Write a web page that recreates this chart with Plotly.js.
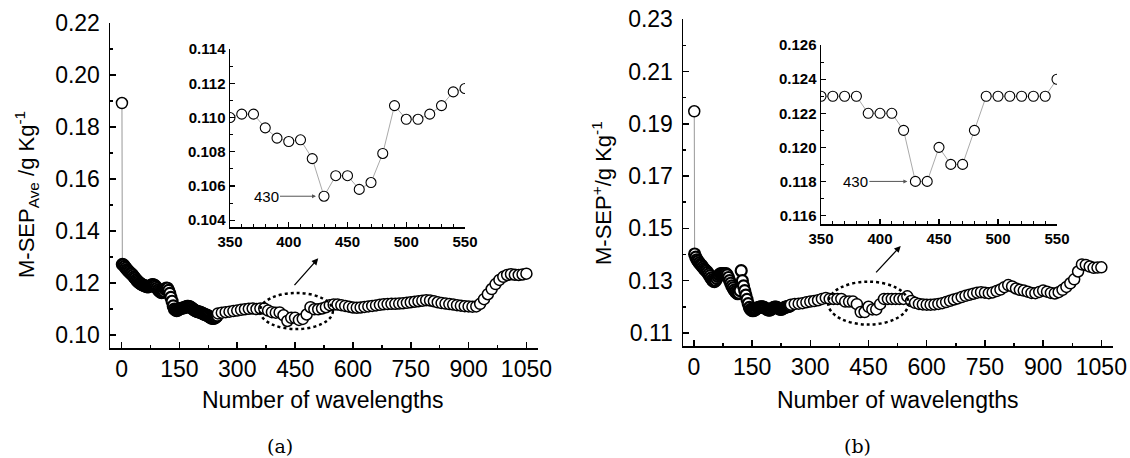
<!DOCTYPE html>
<html><head><meta charset="utf-8">
<script src="https://cdn.plot.ly/plotly-3.0.1.min.js"></script>
<style>html,body{margin:0;padding:0;background:#fff}#chart{width:1130px;height:458px}</style>
</head><body><div id="chart"></div>
<script>
// Number of wavelengths (x)
const firstX = [1];
const denseX = [2,5,8,11,14,17,20,23,26,29,32,35,38,41,44,47,50,53,56,59,62,65,68,71,74,77,80,83,86,89,92,95,98,101,104,107,110,113,116,119,122,125,128,131,134,137,140,143,146,149,152,155,158,161,164,167,170,173,176,179,182,185,188,191,194,197,200,203,206,209,212,215,218,221,224,227,230,233,236,239,242,245,248];
const sparseX = [250,260,270,280,290,300,310,320,330,340,350,360,370,380,390,400,410,420,430,440,450,460,470,480,490,500,510,520,530,540,550,560,570,580,590,600,610,620,630,640,650,660,670,680,690,700,710,720,730,740,750,760,770,780,790,800,810,820,830,840,850,860,870,880,890,900,910,920,930,940,950,960,970,980,990,1000,1010,1020,1030,1040,1050];

// (a) M-SEP Ave
const firstYA = [0.1893];
const denseYA = [0.1272,0.1270,0.1264,0.1258,0.1252,0.1248,0.1243,0.1238,0.1235,0.1230,0.1224,0.1219,0.1213,0.1208,0.1204,0.1200,0.1197,0.1194,0.1192,0.1190,0.1188,0.1186,0.1185,0.1186,0.1189,0.1192,0.1194,0.1193,0.1191,0.1186,0.1180,0.1174,0.1169,0.1165,0.1163,0.1164,0.1168,0.1176,0.1181,0.1180,0.1172,0.1160,0.1145,0.1130,0.1112,0.1100,0.1096,0.1094,0.1096,0.1099,0.1102,0.1103,0.1104,0.1105,0.1106,0.1108,0.1110,0.1110,0.1109,0.1107,0.1104,0.1100,0.1097,0.1094,0.1092,0.1090,0.1089,0.1088,0.1086,0.1084,0.1082,0.1080,0.1078,0.1077,0.1074,0.1071,0.1068,0.1065,0.1064,0.1064,0.1066,0.1069,0.1074];
const sparseYA = [0.1083,0.1086,0.1088,0.1090,0.1092,0.1094,0.1097,0.1099,0.1101,0.1102,0.1100,0.1102,0.1102,0.1094,0.1088,0.1086,0.1087,0.1076,0.1054,0.1066,0.1066,0.1058,0.1062,0.1079,0.1107,0.1099,0.1099,0.1102,0.1107,0.1115,0.1117,0.1117,0.1115,0.1112,0.1109,0.1106,0.1105,0.1106,0.1108,0.1110,0.1112,0.1114,0.1116,0.1118,0.1119,0.1120,0.1120,0.1121,0.1122,0.1124,0.1126,0.1128,0.1130,0.1132,0.1134,0.1133,0.1130,0.1126,0.1123,0.1121,0.1119,0.1117,0.1115,0.1113,0.1111,0.1110,0.1109,0.1110,0.1120,0.1138,0.1157,0.1177,0.1196,0.1212,0.1224,0.1231,0.1234,0.1232,0.1231,0.1233,0.1236];

// (b) M-SEP+
const firstYB = [0.1948];
const denseYB = [0.1402,0.1390,0.1380,0.1375,0.1368,0.1362,0.1358,0.1352,0.1346,0.1341,0.1337,0.1332,0.1325,0.1318,0.1310,0.1303,0.1298,0.1296,0.1300,0.1308,0.1316,0.1322,0.1326,0.1327,0.1327,0.1326,0.1326,0.1327,0.1322,0.1312,0.1300,0.1290,0.1280,0.1272,0.1264,0.1258,0.1253,0.1250,0.1252,0.1262,0.1338,0.1300,0.1280,0.1262,0.1245,0.1228,0.1212,0.1198,0.1190,0.1186,0.1185,0.1186,0.1188,0.1192,0.1196,0.1198,0.1199,0.1200,0.1200,0.1199,0.1197,0.1194,0.1190,0.1188,0.1187,0.1188,0.1191,0.1195,0.1198,0.1199,0.1199,0.1197,0.1194,0.1191,0.1190,0.1191,0.1194,0.1197,0.1199,0.1200,0.1201,0.1202,0.1204];
const sparseYB = [0.1208,0.1211,0.1212,0.1214,0.1217,0.1220,0.1222,0.1225,0.1230,0.1234,0.123,0.123,0.123,0.123,0.122,0.122,0.122,0.121,0.118,0.118,0.120,0.119,0.119,0.121,0.123,0.123,0.123,0.123,0.123,0.123,0.124,0.1222,0.1215,0.1211,0.1209,0.1208,0.1208,0.1209,0.1211,0.1214,0.1218,0.1223,0.1228,0.1232,0.1237,0.1242,0.1246,0.1250,0.1254,0.1256,0.1254,0.1252,0.1255,0.1260,0.1266,0.1275,0.1283,0.1278,0.1270,0.1265,0.1262,0.1258,0.1253,0.1252,0.1257,0.1262,0.1258,0.1253,0.1251,0.1256,0.1265,0.1276,0.1290,0.1305,0.1335,0.1362,0.1360,0.1354,0.1349,0.1350,0.1351];

// inset tick values
const insetRange = [350, 550];
const insetXTicks = [350, 400, 450, 500, 550];
const insetYTicksA = [0.104, 0.106, 0.108, 0.110, 0.112, 0.114];
const insetYTicksB = [0.116, 0.118, 0.120, 0.122, 0.124, 0.126];
const markedX = 430;

const FONT = 'Liberation Sans, Arial, sans-serif';
const W = 1130, H = 458;
const px = v => v / W;
const py = v => 1 - v / H;

const allX = firstX.concat(denseX, sparseX);
const allYA = firstYA.concat(denseYA, sparseYA);
const allYB = firstYB.concat(denseYB, sparseYB);
function insetOf(xs, ys) {
  const ix = [], iy = [];
  xs.forEach((x, i) => { if (x >= insetRange[0] && x <= insetRange[1]) { ix.push(x); iy.push(ys[i]); } });
  return [ix, iy];
}
const [iXA, iYA] = insetOf(sparseX, sparseYA);
const [iXB, iYB] = insetOf(sparseX, sparseYB);
const yAt = (xs, ys, x) => ys[xs.indexOf(x)];
const bold = (arr, d) => arr.map(v => '<b>' + v.toFixed(d) + '</b>');

// dense block drawn with heavier outline so the overlapping circles read as solid black
const denseStart = denseX[0], denseEnd = denseX[denseX.length - 1];
const outlineW = allX.map(x => (x >= denseStart && x <= denseEnd) ? 2.2 : 1.5);

const mainMarker = {symbol: 'circle', size: 11, color: '#ffffff', line: {color: '#000', width: outlineW}};
const insetMarker = {symbol: 'circle', size: 10, color: '#ffffff', line: {color: '#000', width: 1.1}};

const traces = [
  {x: allX, y: allYA, xaxis: 'x', yaxis: 'y', mode: 'lines+markers', line: {color: '#999', width: 1}, marker: mainMarker, showlegend: false},
  {x: iXA, y: iYA, xaxis: 'x2', yaxis: 'y2', mode: 'lines+markers', line: {color: '#aaa', width: 1}, marker: insetMarker, showlegend: false, cliponaxis: true},
  {x: allX, y: allYB, xaxis: 'x3', yaxis: 'y3', mode: 'lines+markers', line: {color: '#999', width: 1}, marker: mainMarker, showlegend: false},
  {x: iXB, y: iYB, xaxis: 'x4', yaxis: 'y4', mode: 'lines+markers', line: {color: '#aaa', width: 1}, marker: insetMarker, showlegend: false, cliponaxis: true}
];

function mainAxis(extra) {
  return Object.assign({
    showline: true, linecolor: '#000', linewidth: 1.5, mirror: false,
    ticks: 'inside', ticklen: 6, tickwidth: 1.5, tickcolor: '#000',
    showgrid: false, zeroline: false, fixedrange: true,
    tickfont: {family: FONT, size: 23, color: '#000'}
  }, extra);
}
function insetAxis(extra) {
  return Object.assign({
    showline: true, linecolor: '#000', linewidth: 1.5, mirror: false,
    ticks: 'inside', ticklen: 5, tickwidth: 1.2, tickcolor: '#000',
    showgrid: false, zeroline: false, fixedrange: true,
    tickfont: {family: FONT, size: 15, color: '#000'}
  }, extra);
}

const layout = {
  width: W, height: H,
  margin: {l: 0, r: 0, t: 0, b: 0},
  paper_bgcolor: '#fff', plot_bgcolor: 'rgba(0,0,0,0)',
  showlegend: false,
  xaxis: mainAxis({domain: [px(110), px(538)], anchor: 'y', range: [-30, 1080], tick0: 0, dtick: 150,
    minor: {ticks: 'inside', ticklen: 3, tickwidth: 1.5, dtick: 75, tick0: 0, showgrid: false}}),
  yaxis: mainAxis({domain: [py(348), py(23)], anchor: 'x', range: [0.095, 0.2201], tick0: 0.1, dtick: 0.02, tickformat: '.2f',
    ticklabelstandoff: 4,
    minor: {ticks: 'inside', ticklen: 3, tickwidth: 1.5, dtick: 0.01, tick0: 0.1, showgrid: false}}),
  xaxis2: insetAxis({domain: [px(230), px(465)], anchor: 'y2', range: insetRange,
    tickmode: 'array', tickvals: insetXTicks, ticktext: bold(insetXTicks, 0),
    minor: {ticks: 'inside', ticklen: 3, tickwidth: 1, dtick: 10, tick0: 350, showgrid: false}}),
  yaxis2: insetAxis({domain: [py(227), py(49)], anchor: 'x2', range: [0.1036, 0.11401],
    tickmode: 'array', tickvals: insetYTicksA, ticktext: bold(insetYTicksA, 3),
    minor: {ticks: 'inside', ticklen: 3, tickwidth: 1, dtick: 0.001, tick0: 0.104, showgrid: false}}),
  xaxis3: mainAxis({domain: [px(683), px(1113)], anchor: 'y3', range: [-28, 1080], tick0: 0, dtick: 150,
    minor: {ticks: 'inside', ticklen: 3, tickwidth: 1.5, dtick: 75, tick0: 0, showgrid: false}}),
  yaxis3: mainAxis({domain: [py(346), py(19)], anchor: 'x3', range: [0.105, 0.2301], tick0: 0.11, dtick: 0.02, tickformat: '.2f',
    ticklabelstandoff: 4,
    minor: {ticks: 'inside', ticklen: 3, tickwidth: 1.5, dtick: 0.01, tick0: 0.11, showgrid: false}}),
  xaxis4: insetAxis({domain: [px(821), px(1057)], anchor: 'y4', range: insetRange,
    tickmode: 'array', tickvals: insetXTicks, ticktext: bold(insetXTicks, 0),
    minor: {ticks: 'inside', ticklen: 3, tickwidth: 1, dtick: 10, tick0: 350, showgrid: false}}),
  yaxis4: insetAxis({domain: [py(224), py(45)], anchor: 'x4', range: [0.1155, 0.12601],
    tickmode: 'array', tickvals: insetYTicksB, ticktext: bold(insetYTicksB, 3),
    minor: {ticks: 'inside', ticklen: 3, tickwidth: 1, dtick: 0.001, tick0: 0.116, showgrid: false}}),
  shapes: [
    {type: 'circle', xref: 'x', yref: 'y', x0: 359, x1: 548, y0: 0.1023, y1: 0.1162, line: {color: '#000', width: 2.5, dash: 'dot'}},
    {type: 'circle', xref: 'x3', yref: 'y3', x0: 346, x1: 553, y0: 0.1132, y1: 0.1296, line: {color: '#000', width: 2.5, dash: 'dot'}}
  ],
  annotations: [
    {xref: 'paper', yref: 'paper', x: px(27), y: py(195), text: 'M-SEP<sub>Ave</sub> /g Kg<sup>-1</sup>', textangle: -90, showarrow: false,
     font: {family: FONT, size: 22, color: '#000'}, xanchor: 'center', yanchor: 'middle'},
    {xref: 'paper', yref: 'paper', x: px(602), y: py(193), text: 'M-SEP<sup>+</sup>/g Kg<sup>-1</sup>', textangle: -90, showarrow: false,
     font: {family: FONT, size: 22, color: '#000'}, xanchor: 'center', yanchor: 'middle'},
    {xref: 'paper', yref: 'paper', x: px(323), y: py(400), text: 'Number of wavelengths', showarrow: false,
     font: {family: FONT, size: 23, color: '#000'}, xanchor: 'center', yanchor: 'middle'},
    {xref: 'paper', yref: 'paper', x: px(898), y: py(400), text: 'Number of wavelengths', showarrow: false,
     font: {family: FONT, size: 23, color: '#000'}, xanchor: 'center', yanchor: 'middle'},
    {xref: 'paper', yref: 'paper', x: px(280), y: py(446), text: '(a)', showarrow: false,
     font: {family: 'DejaVu Serif, Liberation Serif, serif', size: 19, color: '#000'}, xanchor: 'center', yanchor: 'middle'},
    {xref: 'paper', yref: 'paper', x: px(857), y: py(446), text: '(b)', showarrow: false,
     font: {family: 'DejaVu Serif, Liberation Serif, serif', size: 19, color: '#000'}, xanchor: 'center', yanchor: 'middle'},
    // main arrows pointing to insets
    {xref: 'x', yref: 'y', axref: 'x', ayref: 'y', x: 510, y: 0.1295, ax: 445, ay: 0.1186, text: '', showarrow: true,
     arrowhead: 2, arrowsize: 1, arrowwidth: 1.3, arrowcolor: '#000'},
    {xref: 'x3', yref: 'y3', axref: 'x3', ayref: 'y3', x: 533, y: 0.1433, ax: 466, ay: 0.1326, text: '', showarrow: true,
     arrowhead: 2, arrowsize: 1, arrowwidth: 1.3, arrowcolor: '#000'},
    // 430 markers in insets
    {xref: 'x2', yref: 'y2', x: markedX, y: yAt(iXA, iYA, markedX), text: '430', showarrow: true, ax: -58, ay: 0,
     arrowhead: 2, arrowsize: 0.8, arrowwidth: 1, arrowcolor: '#555', standoff: 8,
     font: {family: FONT, size: 15, color: '#000'}},
    {xref: 'x4', yref: 'y4', x: markedX, y: yAt(iXB, iYB, markedX), text: '430', showarrow: true, ax: -60, ay: 0,
     arrowhead: 2, arrowsize: 0.8, arrowwidth: 1, arrowcolor: '#555', standoff: 8,
     font: {family: FONT, size: 15, color: '#000'}}
  ]
};

Plotly.newPlot('chart', traces, layout, {staticPlot: true, displayModeBar: false});
</script>
</body></html>
